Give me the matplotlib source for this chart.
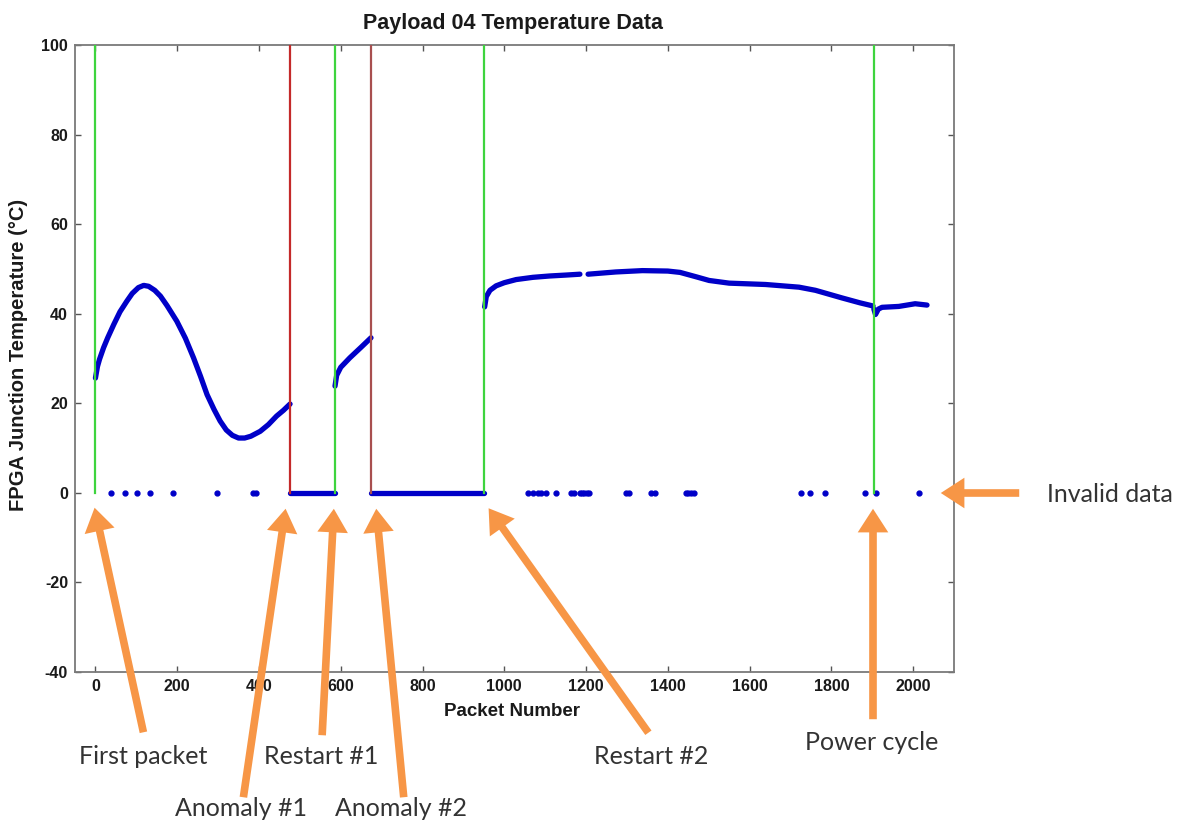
import matplotlib
matplotlib.use("Agg")
import matplotlib.pyplot as plt
from matplotlib.patches import FancyArrowPatch

# ---------------- data ----------------
seg1_x = [0, 5, 10, 20, 30, 45, 60, 77, 90, 105, 118, 130, 145, 159, 175, 199, 220, 240, 257,
          273, 290, 305, 320, 335, 350, 365, 380, 403, 423, 443, 460, 476]
seg1_y = [25.6, 28.2, 29.8, 32.4, 34.6, 37.6, 40.4, 42.8, 44.5, 45.8, 46.3, 46.1, 45.2, 43.9, 41.8,
          38.3, 34.5, 30.1, 26.0, 21.9, 18.6, 16.0, 14.0, 12.8, 12.2, 12.2, 12.6, 13.7, 15.2, 17.1,
          18.4, 19.8]

seg2_x = [586, 590, 600, 622, 650, 674]
seg2_y = [23.8, 26.2, 28.0, 30.1, 32.5, 34.6]

seg3a_x = [952, 956, 965, 980, 1000, 1029, 1070, 1111, 1150, 1185]
seg3a_y = [41.5, 43.8, 45.2, 46.2, 46.9, 47.6, 48.1, 48.4, 48.6, 48.8]
seg3b_x = [1205, 1273, 1338, 1400, 1430, 1470, 1501, 1550, 1639, 1721, 1761, 1826, 1870, 1902]
seg3b_y = [48.8, 49.3, 49.6, 49.5, 49.2, 48.2, 47.4, 46.8, 46.5, 45.9, 45.2, 43.5, 42.4, 41.7]

seg4_x = [1904, 1908, 1915, 1924, 1965, 2005, 2034]
seg4_y = [41.0, 39.8, 41.0, 41.4, 41.6, 42.2, 41.9]

zero_blocks = [(476, 586), (674, 950)]
zero_dots = [39, 73, 102, 134, 189, 297, 385, 393,
             1058, 1070, 1082, 1090, 1102, 1127, 1163, 1171,
             1184, 1190, 1196, 1202, 1208, 1298, 1306, 1359, 1369,
             1444, 1450, 1457, 1464, 1725, 1749, 1784, 1883, 1908, 2014]

event_x = [0, 476, 586, 674, 950, 1904]
event_kind = ["start", "anomaly", "start", "anomaly2", "start", "start"]

xticks = [0, 200, 400, 600, 800, 1000, 1200, 1400, 1600, 1800, 2000]
yticks = [-40, -20, 0, 20, 40, 60, 80, 100]

title = "Payload 04 Temperature Data"
xlabel = "Packet Number"
ylabel = "FPGA Junction Temperature (\u00b0C)"

# annotations: label, label position (image px), arrow tail (image px), arrow tip (image px)
ann_labels = ["First packet", "Anomaly #1", "Restart #1", "Anomaly #2", "Restart #2", "Power cycle", "Invalid data"]
ann_text_pos = [(143, 757), (241, 808), (321, 757), (401, 808), (651, 757), (872, 742), (1047, 494)]
ann_tail = [(144, 735), (243, 800), (322, 738), (404, 800), (650, 735), (873, 722), (1022, 493)]
ann_tip = [(94, 505), (286, 506), (334, 506), (376, 506), (487, 506), (873, 506), (938, 493)]

# ---------------- style ----------------
W, H = 1184, 827
BLUE = "#0000c8"
GREEN = "#3ed43e"
RED = "#c42a2a"
RED2 = "#a84f4f"
ORANGE = "#f79646"
kind_color = {"start": GREEN, "anomaly": RED, "anomaly2": RED2}

plt.rcParams["font.family"] = ["Liberation Sans", "DejaVu Sans"]
plt.rcParams["axes.unicode_minus"] = False

fig = plt.figure(figsize=(W / 100, H / 100), dpi=100)
fig.patch.set_facecolor("white")
ax_left, ax_right, ax_top, ax_bottom = 75, 954, 45, 671.7
ax = fig.add_axes([ax_left / W, 1 - ax_bottom / H, (ax_right - ax_left) / W, (ax_bottom - ax_top) / H])

lw_curve = 3.8
for xs, ys in [(seg1_x, seg1_y), (seg2_x, seg2_y), (seg3a_x, seg3a_y), (seg3b_x, seg3b_y), (seg4_x, seg4_y)]:
    ax.plot(xs, ys, color=BLUE, lw=lw_curve, solid_capstyle="round", solid_joinstyle="round", zorder=3)

for a, b in zero_blocks:
    ax.plot([a, b], [0, 0], color=BLUE, lw=lw_curve, solid_capstyle="round", zorder=3)

ax.plot(zero_dots, [0] * len(zero_dots), ".", color=BLUE, ms=7, zorder=3)

for x, k in zip(event_x, event_kind):
    ax.plot([x, x], [0, 100], color=kind_color[k], lw=1.6, zorder=4)

ax.set_xlim(-50, 2100)
ax.set_ylim(-40, 100)
ax.set_xticks(xticks)
ax.set_yticks(yticks)
ax.tick_params(direction="in", top=True, right=True, length=4.5, width=1, color="#555555",
               labelsize=11.5, pad=5)
for lab in ax.get_xticklabels() + ax.get_yticklabels():
    lab.set_fontweight("bold")
    lab.set_color("#1a1a1a")
for s in ax.spines.values():
    s.set_color("#7a7a7a")
    s.set_linewidth(1.3)

fig.text(513 / W, 1 - 24 / H, title, ha="center", va="center", fontsize=15.5, fontweight="bold", color="#1a1a1a")
fig.text(512 / W, 1 - 712 / H, xlabel, ha="center", va="center", fontsize=13.5, fontweight="bold", color="#1a1a1a")
fig.text(19 / W, 1 - 355 / H, ylabel, ha="center", va="center", rotation=90, fontsize=14.5, fontweight="bold", color="#1a1a1a")

# arrows and labels
for lab, tp, tail, tip in zip(ann_labels, ann_text_pos, ann_tail, ann_tip):
    arr = FancyArrowPatch((tail[0] / W, 1 - tail[1] / H), (tip[0] / W, 1 - tip[1] / H),
                          transform=fig.transFigure,
                          arrowstyle="simple,head_length=17,head_width=22,tail_width=5.5",
                          mutation_scale=1, color=ORANGE, lw=0, zorder=5)
    fig.add_artist(arr)
    ha = "left" if lab == "Invalid data" else "center"
    fig.text(tp[0] / W, 1 - tp[1] / H, lab, ha=ha, va="center", fontsize=18,
             family=["Lato", "DejaVu Sans"], color="#333333")

fig.savefig("out.png", dpi=100, facecolor="white")
